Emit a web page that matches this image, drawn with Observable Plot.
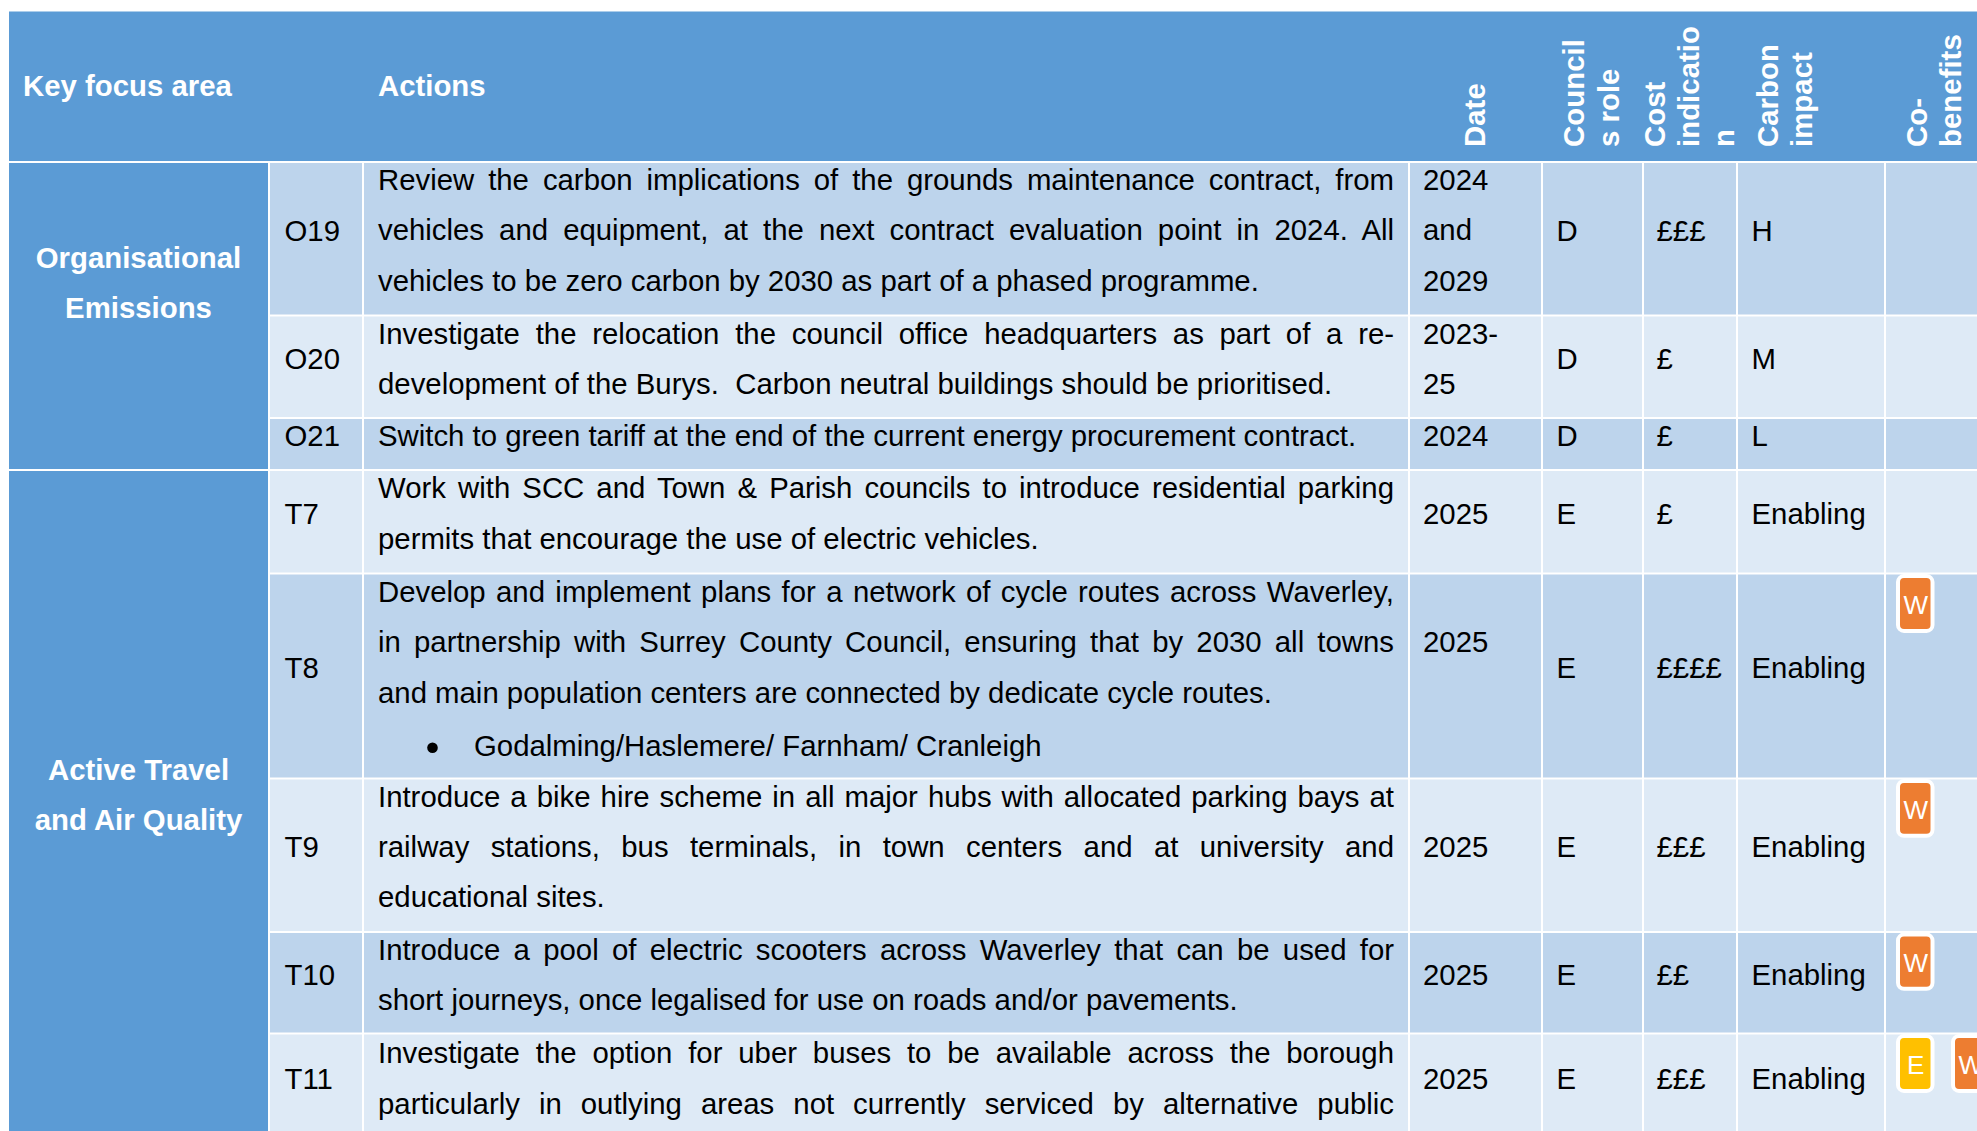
<!DOCTYPE html>
<html><head><meta charset="utf-8">
<style>html,body{margin:0;padding:0;background:#fff;overflow:hidden}svg{display:block}</style>
<script src="https://cdn.jsdelivr.net/npm/d3@7"></script>
<script src="https://cdn.jsdelivr.net/npm/@observablehq/plot@0.6"></script>
</head><body><div id="chart"></div>
<script>
// ---- table content ----
const columns = ["focus","id","action","date","role","cost","impact","cobenefits"];
const ids = ["O19","O20","O21","T7","T8","T9","T10","T11"];
const rowLines = [3,2,1,2,4,3,2,2];
const dates = [["2024","and","2029"],["2023-","25"],["2024"],["2025"],["2025"],["2025"],["2025"],["2025"]];
const roles = ["D","D","D","E","E","E","E","E"];
const costs = ["£££","£","£","£","££££","£££","££","£££"];
const impacts = ["H","M","L","Enabling","Enabling","Enabling","Enabling","Enabling"];
const coBenefits = [[],[],[],[],["W"],["W"],["W"],["E","W"]];
const actions = [
 ["Review the carbon implications of the grounds maintenance contract, from","vehicles and equipment, at the next contract evaluation point in 2024. All","vehicles to be zero carbon by 2030 as part of a phased programme."],
 ["Investigate the relocation the council office headquarters as part of a re-","development of the Burys.  Carbon neutral buildings should be prioritised."],
 ["Switch to green tariff at the end of the current energy procurement contract."],
 ["Work with SCC and Town & Parish councils to introduce residential parking","permits that encourage the use of electric vehicles."],
 ["Develop and implement plans for a network of cycle routes across Waverley,","in partnership with Surrey County Council, ensuring that by 2030 all towns","and main population centers are connected by dedicate cycle routes.","Godalming/Haslemere/ Farnham/ Cranleigh"],
 ["Introduce a bike hire scheme in all major hubs with allocated parking bays at","railway stations, bus terminals, in town centers and at university and","educational sites."],
 ["Introduce a pool of electric scooters across Waverley that can be used for","short journeys, once legalised for use on roads and/or pavements."],
 ["Investigate the option for uber buses to be available across the borough","particularly in outlying areas not currently serviced by alternative public"]
];
const justified = [[1,1,0],[1,0],[0],[1,0],[1,1,0,0],[1,1,0],[1,0],[1,1]];
const focusAreas = [["Organisational","Emissions"],["Active Travel","and Air Quality"]];
const focusLine = [1.88,11.83];
const focusRows = [[0,3],[3,8]];
const headers = ["Key focus area","Actions"];
const rotatedHeaders = [["date",0,"Date"],["role",0,"Council"],["role",1,"s role"],["cost",0,"Cost"],["cost",1,"indicatio"],["cost",2,"n"],["impact",0,"Carbon"],["impact",1,"impact"],["cobenefits",0,"Co-"],["cobenefits",1,"benefits"]];

// ---- layout ----
const W = 1977, H = 1131;
const cumul = d3.cumsum(rowLines);
const lineDomain = [-3, 0, ...cumul];
const lineRange = [11.5, 162, 315.5, 418, 470, 573.5, 778.5, 932, 1033.5, 1136];
const colEdge = {focus:[9,269],id:[269,363],action:[363,1409],date:[1409,1542],role:[1542,1643],cost:[1643,1737],impact:[1737,1885],cobenefits:[1885,1990]};
const textX = {id:284,action:377.5,date:1422.5,role:1556,cost:1656,impact:1751};
const rotBase = {date:[1484],role:[1583,1618],cost:[1664,1698.5,1733.5],impact:[1777,1811],cobenefits:[1926,1960]};
const blue = "#5B9BD5", band1 = "#BDD4EC", band2 = "#DEEAF6";
const font = "Liberation Sans, Arial, sans-serif", FS = 29.35;

const rows = ids.map((id,i)=>({id,i,top:i?cumul[i-1]:0,lines:rowLines[i]}));
const cellCols = columns.slice(1);
const cells = rows.flatMap(r=>cellCols.map(c=>({...r,col:c,x1:colEdge[c][0],x2:colEdge[c][1]})));
const nudge = r=>r.i===7?0.03:0;
const lineY = (r,j)=>r.top+0.355+nudge(r)+j*0.985+(r.i===4&&j===3?0.05:0);
const actionLines = rows.flatMap(r=>actions[r.i].map((t,j)=>({t,y:lineY(r,j),x:(r.i===4&&j===3)?473.5:textX.action,just:justified[r.i][j]})));
const mid = r=>r.top+r.lines/2-0.15+nudge(r);
const dateRows = rows.flatMap(r=>dates[r.i].length>1
   ? dates[r.i].map((t,j)=>({t,y:lineY(r,j)}))
   : [{t:dates[r.i][0],y:(r.i===4? r.top+1.34 : mid(r))}]);
const centred = (vals,col)=>rows.map(r=>({t:vals[r.i],x:textX[col],y:mid(r)}));
const simple = [
  ...rows.map(r=>({t:r.id,x:textX.id,y:mid(r)})),
  ...centred(roles,"role"),...centred(costs,"cost"),...centred(impacts,"impact"),
  ...dateRows.map(d=>({...d,x:textX.date}))
];
const badgeCol = {E:"#FFC000",W:"#ED7D31"};
const badges = rows.flatMap(r=>coBenefits[r.i].map((b,k)=>({b,k,top:r.top,x1:1898+k*55,x2:1932.5+k*55})));
const bulletRow = rows[4];
const rowTop = i=>i===0?0:cumul[i-1];

const plot = Plot.plot({
  width:W,height:H,margin:0,
  style:{background:"#fff",fontFamily:font},
  x:{type:"linear",domain:[0,W],range:[0,W],axis:null},
  y:{type:"linear",domain:lineDomain,range:lineRange,axis:null},
  marks:[
    Plot.rect([0],{x1:9,x2:W,y1:-3,y2:0,fill:blue,insetBottom:1}),
    Plot.rect(focusAreas,{x1:9,x2:268,y1:(d,i)=>rowTop(focusRows[i][0]),y2:(d,i)=>rowTop(focusRows[i][1]),fill:blue,insetTop:1,insetBottom:1}),
    Plot.rect(cells,{x1:"x1",x2:"x2",y1:"top",y2:d=>d.top+d.lines,fill:d=>d.i%2?band2:band1,insetLeft:1,insetRight:1,insetTop:1,insetBottom:1}),
    Plot.text(headers,{x:(d,i)=>i?377.5:22.5,y:-1.52,text:d=>d,fontSize:FS,fontWeight:"bold",fill:"white",textAnchor:"start",lineAnchor:"middle"}),
    Plot.text(rotatedHeaders,{x:d=>rotBase[d[0]][d[1]],y:-0.31,text:d=>d[2],rotate:-90,fontSize:29.4,fontWeight:"bold",fill:"white",textAnchor:"start",lineAnchor:"bottom"}),
    Plot.text(focusAreas.flatMap((a,i)=>a.map((t,j)=>({t,y:focusLine[i]+j*0.98}))),{x:138,y:"y",text:"t",fontSize:FS,fontWeight:"bold",fill:"white",textAnchor:"middle",lineAnchor:"middle"}),
    Plot.text(actionLines,{x:"x",y:"y",text:"t",fontSize:FS,fill:"#000",textAnchor:"start",lineAnchor:"middle",className:"actions"}),
    Plot.dot([bulletRow],{x:432,y:d=>d.top+3.39,r:5.3,fill:"#000"}),
    Plot.text(simple,{x:"x",y:"y",text:"t",fontSize:FS,fill:"#000",textAnchor:"start",lineAnchor:"middle"}),
    Plot.rect(badges,{x1:"x1",x2:"x2",y1:d=>d.top+0.05,y2:d=>d.top+1.12,fill:d=>badgeCol[d.b],stroke:"white",strokeWidth:4,rx:6}),
    Plot.text(badges,{x:d=>(d.x1+d.x2)/2,y:d=>d.top+0.62,text:"b",fontSize:26,fill:"white",textAnchor:"middle",lineAnchor:"middle"})
  ]
});
document.getElementById("chart").append(plot);
// justify: widen the spaces of full-measure lines to the cell's right padding edge
const rightEdge = 1393.5;
plot.querySelectorAll(".actions text").forEach((el,i)=>{
  const d = actionLines[i];
  if(!d||!d.just) return;
  const spaces = (d.t.match(/ /g)||[]).length;
  const len = el.getComputedTextLength();
  el.style.wordSpacing = ((rightEdge-d.x-len)/spaces)+"px";
});
</script></body></html>
